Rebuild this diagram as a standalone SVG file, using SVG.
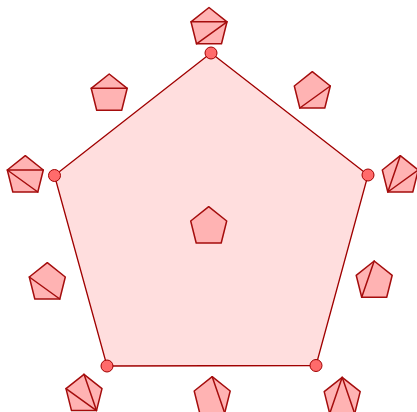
<svg xmlns="http://www.w3.org/2000/svg" xmlns:xlink="http://www.w3.org/1999/xlink" width="417" height="412" viewBox="0 0 417 412">
<style>
.big{fill:#ffdede;stroke:#a00000;stroke-width:1.3;stroke-linejoin:round}
.sp{fill:#ffb3b3;stroke:#a50d0d;stroke-width:1.5;stroke-linejoin:round}
.dg{stroke:#a50d0d;stroke-width:1.5;fill:none;stroke-linecap:round}
.dot{fill:#ff6b6b;stroke:#a00000;stroke-width:1}
</style>
<defs>
<polygon id="pent" class="sp" points="0,0 18,14.3 12.5,36.3 -12.5,36.3 -18,14.3"/>
</defs>
<rect width="417" height="412" fill="#ffffff"/>
<g id="big-pentagon">
<polygon class="big" points="211,53 368,175 316,365.5 107,366 54.5,175.5"/>
</g>
<g id="vertex-dots">
<circle class="dot" cx="211" cy="53" r="6"/>
<circle class="dot" cx="368" cy="175" r="6"/>
<circle class="dot" cx="316" cy="365.5" r="6"/>
<circle class="dot" cx="107" cy="366" r="6"/>
<circle class="dot" cx="54.5" cy="175.5" r="6"/>
</g>
<g id="n-top" transform="translate(209,7.5)"><use xlink:href="#pent"/><path class="dg" d="M-18,14.3H18M18,14.3L-12.5,36.3"/></g>
<g id="n-topleft" transform="translate(109.2,74)"><use xlink:href="#pent"/><path class="dg" d="M-18,14.3H18"/></g>
<g id="n-topright" transform="translate(312.3,71.7)"><use xlink:href="#pent"/><path class="dg" d="M18,14.3L-12.5,36.3"/></g>
<g id="n-left" transform="translate(25.3,155.7)"><use xlink:href="#pent"/><path class="dg" d="M-18,14.3H18M-18,14.3L12.5,36.3"/></g>
<g id="n-right" transform="translate(400.3,155.7)"><use xlink:href="#pent"/><path class="dg" d="M0,0L-12.5,36.3M18,14.3L-12.5,36.3"/></g>
<g id="n-center" transform="translate(208.7,206.7)"><use xlink:href="#pent"/></g>
<g id="n-lowerleft" transform="translate(47.3,262.7)"><use xlink:href="#pent"/><path class="dg" d="M-18,14.3L12.5,36.3"/></g>
<g id="n-lowerright" transform="translate(374.2,261)"><use xlink:href="#pent"/><path class="dg" d="M0,0L-12.5,36.3"/></g>
<g id="n-bottomleft" transform="translate(84,374.3)"><use xlink:href="#pent"/><path class="dg" d="M0,0L12.5,36.3M-18,14.3L12.5,36.3"/></g>
<g id="n-bottom" transform="translate(212.2,376.7)"><use xlink:href="#pent"/><path class="dg" d="M0,0L12.5,36.3"/></g>
<g id="n-bottomright" transform="translate(342.2,377.3)"><use xlink:href="#pent"/><path class="dg" d="M0,0L-12.5,36.3M0,0L12.5,36.3"/></g>
</svg>
